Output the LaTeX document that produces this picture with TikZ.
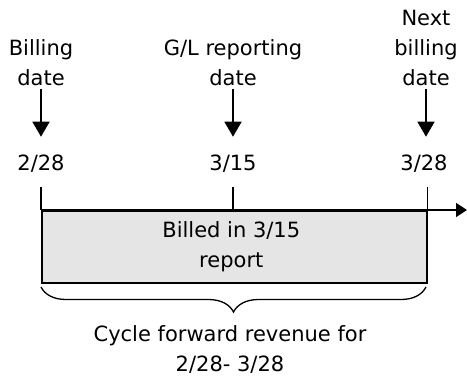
\documentclass[tikz,border=0pt]{standalone}
\usepackage{fontspec}
\setmainfont{DejaVu Sans}
\usetikzlibrary{arrows.meta,decorations.pathreplacing,calc}
\begin{document}
\begin{tikzpicture}[x=1pt,y=-1pt,
  lbl/.style={font=\fontsize{21}{30}\selectfont, align=center, inner sep=3pt, anchor=base},
  ln/.style={line width=1.6pt},
  darr/.style={ln, -{Triangle[width=17pt,length=15pt]}, shorten >=14.5pt},
  axarr/.style={ln, -{Triangle[width=14pt,length=11pt]}},
  tick/.style={ln, shorten <=12pt},
  bracestyle/.style={line width=1.3pt, decorate, decoration={brace, amplitude=25pt}}
]
\useasboundingbox (0,0) rectangle (467,376);
% top labels (anchor base = baseline of last line)
\node[lbl] (bill) at (41,85) {Billing\\date};
\node[lbl] (gl) at (233,85) {G/L reporting\\date};
\node[lbl] (next) at (426,85) {Next\\billing\\date};
% dates
\node[lbl] (d1) at (41,170) {2/28};
\node[lbl] (d2) at (233,170) {3/15};
\node[lbl] (d3) at (424,170) {3/28};
% box
\node[draw, ln, fill=black!10, minimum width=385pt, minimum height=72pt, inner sep=0pt, anchor=north west] (box) at (41,210) {};
\node[lbl, anchor=center] (btxt) at ($(box.center)+(-3,0)$) {Billed in 3/15\\report};
% axis
\coordinate (axend) at (467,210);
\draw[axarr] (box.north west) -- (axend);
% ticks
\draw[tick] (d1.south) -- (d1.south |- box.north);
\draw[tick] (d2.south) -- (d2.south |- box.north);
\draw[tick] (box.north east |- d3.south) -- (box.north east);
% arrows
\draw[darr] (bill.south) -- (bill.south |- d1.north);
\draw[darr] (gl.south) -- (gl.south |- d2.north);
\draw[darr] (next.south) -- (next.south |- d3.north);
% brace
\coordinate (br) at (426,287);
\coordinate (bl) at (41,287);
\draw[bracestyle] (br) -- (bl);
% bottom label
\node[lbl, inner sep=1pt] (cyc) at (230,371) {Cycle forward revenue for\\2/28- 3/28};
\end{tikzpicture}
\end{document}
